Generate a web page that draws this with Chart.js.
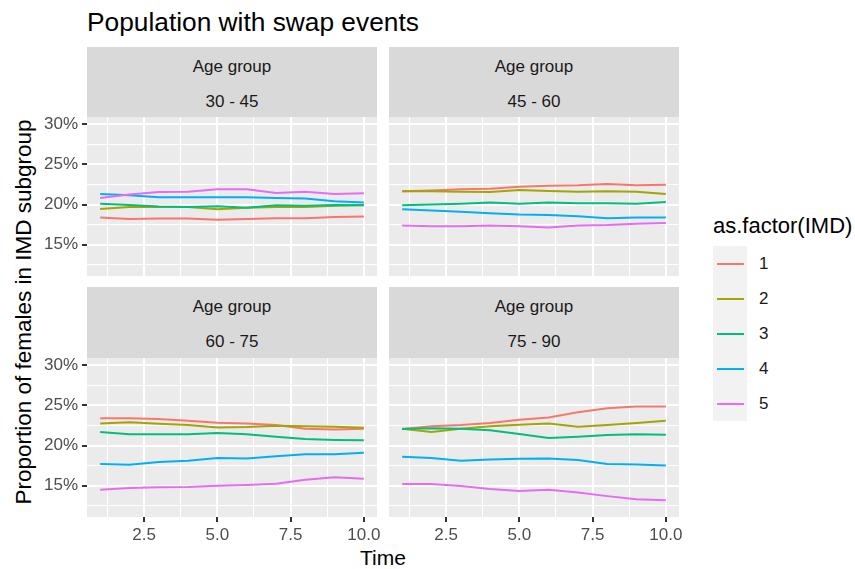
<!DOCTYPE html>
<html><head><meta charset="utf-8">
<script src="https://cdn.jsdelivr.net/npm/chart.js@4.4.1/dist/chart.umd.min.js"></script>
<style>
html,body{margin:0;padding:0;background:#fff;}
#root{position:relative;width:855px;height:569px;overflow:hidden;font-family:"Liberation Sans",Arial,sans-serif;}
.t{position:absolute;white-space:nowrap;line-height:1;}
.box{position:absolute;}
canvas{position:absolute;}
</style></head><body><div id="root"></div>
<script>
// ---------- data ----------
const times = [1,2,3,4,5,6,7,8,9,10];
const imdGroups = ['1','2','3','4','5'];
const ageGroups = ['30 - 45','45 - 60','60 - 75','75 - 90'];
const xTickValues = [2.5,5,7.5,10];
const xTickLabels = ['2.5','5.0','7.5','10.0'];
const yTickValues = [15,20,25,30];
const yTickLabels = ['15%','20%','25%','30%'];

// proportion of females (%) by age group and IMD
const age30_imd1 = [18.4,18.2,18.25,18.25,18.1,18.2,18.3,18.3,18.45,18.5];
const age30_imd2 = [19.45,19.7,19.7,19.7,19.4,19.6,19.7,19.7,19.85,19.95];
const age30_imd3 = [20.1,19.95,19.75,19.7,19.8,19.6,19.9,19.85,19.95,19.9];
const age30_imd4 = [21.3,21.15,20.9,20.9,20.9,20.9,20.8,20.75,20.4,20.25];
const age30_imd5 = [20.8,21.25,21.55,21.6,21.9,21.9,21.45,21.6,21.3,21.4];

const age45_imd1 = [21.65,21.75,21.9,21.95,22.2,22.35,22.4,22.55,22.4,22.45];
const age45_imd2 = [21.65,21.65,21.6,21.55,21.8,21.7,21.6,21.65,21.6,21.3];
const age45_imd3 = [19.9,20.0,20.1,20.25,20.1,20.25,20.15,20.15,20.1,20.3];
const age45_imd4 = [19.4,19.25,19.1,18.9,18.75,18.7,18.55,18.3,18.4,18.4];
const age45_imd5 = [17.4,17.3,17.3,17.4,17.3,17.15,17.4,17.45,17.6,17.7];

const age60_imd1 = [23.4,23.4,23.3,23.1,22.85,22.75,22.55,22.1,22.0,22.1];
const age60_imd2 = [22.75,22.9,22.7,22.55,22.25,22.3,22.45,22.4,22.35,22.2];
const age60_imd3 = [21.7,21.4,21.4,21.4,21.55,21.4,21.1,20.8,20.7,20.65];
const age60_imd4 = [17.7,17.6,17.95,18.1,18.45,18.4,18.65,18.9,18.9,19.1];
const age60_imd5 = [14.5,14.7,14.8,14.85,15.0,15.1,15.25,15.75,16.05,15.85];

const age75_imd1 = [22.05,22.4,22.55,22.8,23.2,23.5,24.15,24.65,24.85,24.85];
const age75_imd2 = [22.1,21.7,22.1,22.4,22.6,22.75,22.35,22.55,22.8,23.1];
const age75_imd3 = [22.05,22.15,22.1,21.9,21.45,20.95,21.1,21.3,21.4,21.35];
const age75_imd4 = [18.6,18.45,18.1,18.25,18.35,18.4,18.2,17.7,17.65,17.5];
const age75_imd5 = [15.2,15.2,14.95,14.6,14.35,14.5,14.15,13.7,13.3,13.2];

const panelSeries = [
  [age30_imd1,age30_imd2,age30_imd3,age30_imd4,age30_imd5],
  [age45_imd1,age45_imd2,age45_imd3,age45_imd4,age45_imd5],
  [age60_imd1,age60_imd2,age60_imd3,age60_imd4,age60_imd5],
  [age75_imd1,age75_imd2,age75_imd3,age75_imd4,age75_imd5]
];

// ---------- style / layout ----------
const colors = ['#F8766D','#A3A500','#00BF7D','#00B0F6','#E76BF3'];
const FONT = '"Liberation Sans", Arial, sans-serif';
const xMinor = [1.25,3.75,6.25,8.75];
const yMinor = [12.5,17.5,22.5,27.5];
const cols = [{L:87,R:377},{L:389,R:679}];
const rows = [{S:47,T:117,B:276},{S:287,T:358,B:517}];

const root = document.getElementById('root');
function text(str, x, baseline, size, color, align){
  const d = document.createElement('div');
  d.className = 't'; d.textContent = str;
  d.style.fontSize = size + 'px'; d.style.color = color;
  d.style.top = (baseline - 0.8465*size) + 'px';
  d.style.left = x + 'px';
  if (align === 'center') d.style.transform = 'translateX(-50%)';
  root.appendChild(d);
  return d;
}
function box(x,y,w,h,bg){
  const d = document.createElement('div');
  d.className='box';
  Object.assign(d.style,{left:x+'px',top:y+'px',width:w+'px',height:h+'px',background:bg});
  root.appendChild(d);
}

// title
text('Population with swap events', 87, 31.7, 26.3, '#000');

// strips
for (let i=0;i<4;i++){
  const r = rows[Math.floor(i/2)], c = cols[i%2];
  box(c.L, r.S, c.R-c.L, r.T-r.S, '#D9D9D9');
  const cx = (c.L+c.R)/2;
  text('Age group', cx, r.S+25.3, 17, '#1A1A1A', 'center');
  text(ageGroups[i], cx, r.S+60.5, 17, '#1A1A1A', 'center');
}

// axis titles
text('Time', (cols[0].L+cols[1].R)/2, 564.5, 21, '#000', 'center');
const yt = text('Proportion of females in IMD subgroup', 0, 0, 22.5, '#000');
yt.style.top = '312px';
yt.style.left = '24px';
yt.style.transform = 'translate(-50%,-50%) rotate(-90deg)';

// legend
text('as.factor(IMD)', 713, 234, 22, '#000');
box(713, 246, 34, 175, '#F2F2F2');
for (let i=0;i<imdGroups.length;i++){
  const cy = 263.5 + 35*i;
  box(716.5, cy-1, 27.5, 2, colors[i]);
  text(imdGroups[i], 759, cy+6.1, 17, '#1A1A1A');
}

// panels
const bgPlugin = {id:'panelbg', beforeDraw(chart){
  const a = chart.chartArea, c = chart.ctx;
  c.save(); c.fillStyle = '#EBEBEB';
  c.fillRect(a.left, a.top, a.right-a.left, a.bottom-a.top); c.restore();
}};
const isMajor = (arr, v) => arr.some(m => Math.abs(m-v) < 1e-6);
function label(vals, labs, v){ const i = vals.findIndex(m => Math.abs(m-v)<1e-6); return i>=0 ? labs[i] : ''; }

function makePanel(idx){
  const r = Math.floor(idx/2), cI = idx%2;
  const col = cols[cI], row = rows[r];
  const isLeft = cI===0, isBottom = r===1;
  const yW = isLeft ? 87 : 0;
  const xH = isBottom ? 40 : 0;
  const pad = {left: isLeft?0:10, right:14, top:10, bottom: isBottom?0:6};
  const w = (col.R-col.L) + pad.left + pad.right + yW;
  const h = (row.B-row.T) + pad.top + pad.bottom + xH;
  const cv = document.createElement('canvas');
  cv.width = w; cv.height = h;
  Object.assign(cv.style,{left:(col.L-pad.left-yW)+'px', top:(row.T-pad.top)+'px', width:w+'px', height:h+'px'});
  root.appendChild(cv);
  const zeroPad = s => { s.paddingLeft = s.paddingRight = s.paddingTop = s.paddingBottom = 0; };
  new Chart(cv, {
    type:'line',
    data:{datasets: panelSeries[idx].map((s,i)=>({
      label: imdGroups[i],
      data: times.map((t,j)=>({x:t, y:s[j]})),
      borderColor: colors[i], backgroundColor: colors[i],
      borderWidth: 2, pointRadius: 0, tension: 0, fill: false,
      order: imdGroups.length - i
    }))},
    options:{
      responsive:false, maintainAspectRatio:false, animation:false, devicePixelRatio:1,
      events:[], layout:{padding:pad},
      plugins:{legend:{display:false}, tooltip:{enabled:false}, title:{display:false}},
      scales:{
        x:{type:'linear', min:0.55, max:10.45,
          afterBuildTicks: s => { s.ticks = [...xMinor, ...xTickValues].sort((a,b)=>a-b).map(v=>({value:v})); },
          afterFit: s => { s.height = xH; zeroPad(s); },
          border:{display:false},
          grid:{color:'#FFFFFF', lineWidth: ctx => isMajor(xTickValues, ctx.tick.value) ? 2 : 1,
            drawTicks:isBottom, tickLength:5, tickWidth:2,
            tickColor: ctx => isMajor(xTickValues, ctx.tick.value) ? '#333333' : 'rgba(0,0,0,0)'},
          ticks:{display:isBottom, autoSkip:false, maxRotation:0, minRotation:0, padding:3,
            color:'#4D4D4D', font:{family:FONT, size:17},
            callback: v => label(xTickValues, xTickLabels, v)}
        },
        y:{type:'linear', min:11.1, max:30.9,
          afterBuildTicks: s => { s.ticks = [...yMinor, ...yTickValues].sort((a,b)=>a-b).map(v=>({value:v})); },
          afterFit: s => { s.width = yW; zeroPad(s); },
          border:{display:false},
          grid:{color:'#FFFFFF', lineWidth: ctx => isMajor(yTickValues, ctx.tick.value) ? 2 : 1,
            drawTicks:isLeft, tickLength:5, tickWidth:2,
            tickColor: ctx => isMajor(yTickValues, ctx.tick.value) ? '#333333' : 'rgba(0,0,0,0)'},
          ticks:{display:isLeft, autoSkip:false, padding:4,
            color:'#4D4D4D', font:{family:FONT, size:17},
            callback: v => label(yTickValues, yTickLabels, v)}
        }
      }
    },
    plugins:[bgPlugin]
  });
}
for (let i=0;i<4;i++) makePanel(i);
</script>
</body></html>
